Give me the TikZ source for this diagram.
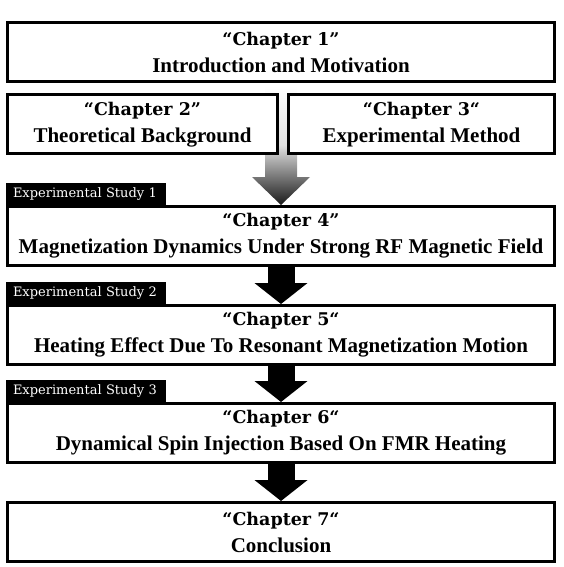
\documentclass[tikz,border=0pt]{standalone}
\usepackage{fontspec}
\setmainfont{Liberation Serif}
\newfontfamily\headfont{DejaVu Serif}
\usepackage{tikz}
\usetikzlibrary{arrows.meta,positioning,calc,backgrounds}
\tikzset{
  chapbox/.style={draw=black,line width=3pt,fill=white,align=center,
              minimum width=547pt,minimum height=59pt,inner sep=2pt,
              font=\fontsize{21}{27}\selectfont\bfseries},
  leftbox/.style={chapbox,minimum width=270pt},
  rightbox/.style={chapbox,minimum width=266pt},
  studytab/.style={fill=black,text=white,anchor=south west,outer sep=0pt,
              minimum height=22pt,text width=146pt,inner xsep=7pt,inner ysep=0pt,
              font=\headfont\fontsize{13}{15}\selectfont},
  blockarrow/.style={line width=27pt,-{Triangle[length=21pt,width=52pt]}},
  fadearrow/.style={top color=white,bottom color=black!90,middle color=black!12}
}
\newcommand{\chapline}[1]{{\headfont\fontsize{17.5}{27}\selectfont #1}}

\begin{document}
\begin{tikzpicture}[x=1pt,y=1pt]
  \useasboundingbox (0,0) rectangle (564,-567);
  \node[chapbox] (c1) at (281,-52.2) {\chapline{“Chapter 1”}\\Introduction and Motivation};
  \node[leftbox,below right=10pt and 0pt of c1.south west] (c2) {\chapline{“Chapter 2”}\\Theoretical Background};
  \node[rightbox,below left=10pt and 0pt of c1.south east] (c3) {\chapline{“Chapter 3“}\\Experimental Method};
  \node[chapbox] (c4) at (281,-236) {\chapline{“Chapter 4”}\\Magnetization Dynamics Under Strong RF Magnetic Field};
  \node[chapbox,below=37pt of c4] (c5) {\chapline{“Chapter 5“}\\Heating Effect Due To Resonant Magnetization Motion};
  \node[chapbox,below=36pt of c5] (c6) {\chapline{“Chapter 6“}\\Dynamical Spin Injection Based On FMR Heating};
  \node[chapbox,below=37pt of c6] (c7) {\chapline{“Chapter 7“}\\Conclusion};
  % study labels
  \node[studytab] (s1) at (c4.north west) {Experimental Study 1};
  \node[studytab] (s2) at (c5.north west) {Experimental Study 2};
  \node[studytab] (s3) at (c6.north west) {Experimental Study 3};
  % arrows
  \begin{scope}[on background layer]
    \shade[fadearrow] ($(c1.south)+(-16,-2)$) -- ($(c1.south)+(16,-2)$)
      -- ($(c4.north)+(16,28)$) -- ($(c4.north)+(29,28)$) -- (c4.north)
      -- ($(c4.north)+(-29,28)$) -- ($(c4.north)+(-16,28)$) -- cycle;
  \end{scope}
  \draw[blockarrow] (c4) -- (c5);
  \draw[blockarrow] (c5) -- (c6);
  \draw[blockarrow] (c6) -- (c7);
\end{tikzpicture}
\end{document}
